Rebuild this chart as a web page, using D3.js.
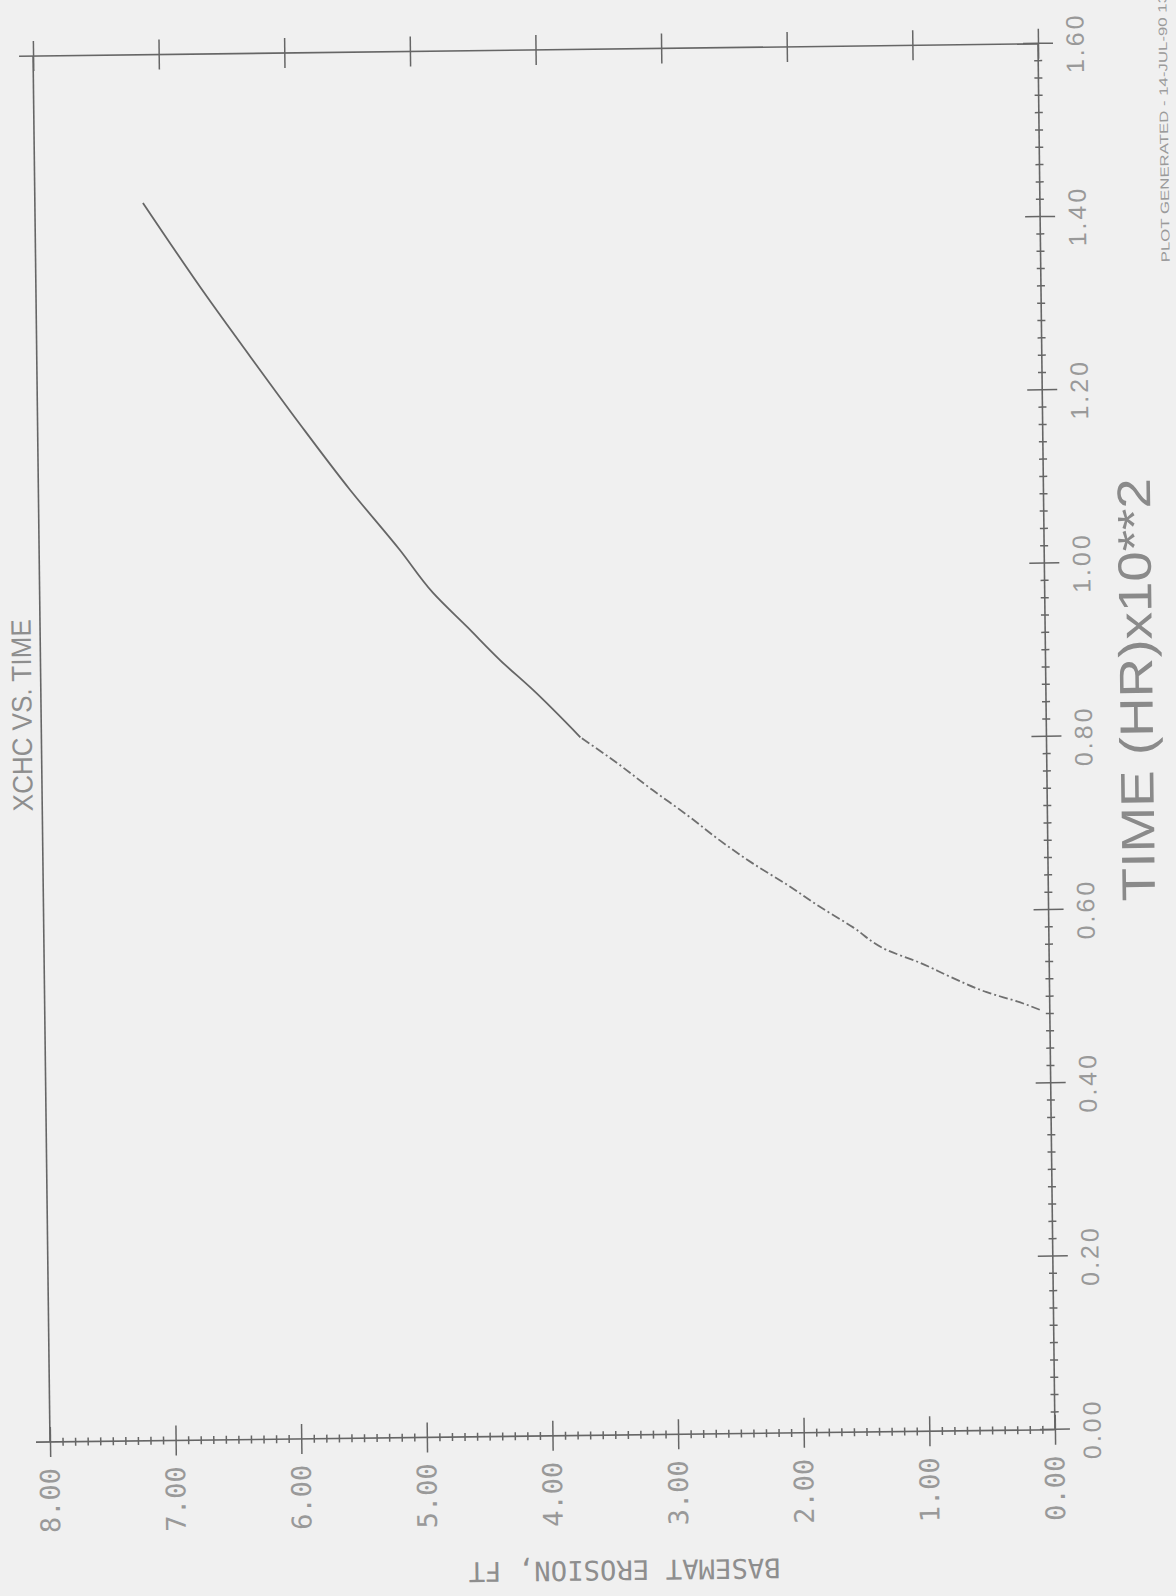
<!DOCTYPE html>
<html>
<head>
<meta charset="utf-8">
<script src="https://cdn.jsdelivr.net/npm/d3@7"></script>
<style>
  html, body { margin: 0; padding: 0; background: #f0f0f0; }
  svg { display: block; }
</style>
</head>
<body>
<script>
// values: time is in units of 100 hr, erosion in ft
var timeHr = [0.485, 0.494, 0.506, 0.523, 0.541, 0.556, 0.583, 0.607, 0.633, 0.658, 0.685, 0.715, 0.744,
              0.779, 0.806, 0.861, 0.896, 0.935, 0.975, 1.025, 1.095, 1.171, 1.250, 1.320, 1.429];
var erosionFt = [0.08, 0.24, 0.50, 0.77, 1.03, 1.29, 1.56, 1.82, 2.08, 2.35, 2.61, 2.87, 3.14,
                 3.45, 3.71, 4.08, 4.34, 4.60, 4.87, 5.13, 5.52, 5.91, 6.30, 6.64, 7.14];
// below this time the plotted line breaks up into dashes
var dashBelow = 0.806;

var timeTicks = [0, 0.2, 0.4, 0.6, 0.8, 1.0, 1.2, 1.4, 1.6];
var erosionTicks = [0, 1, 2, 3, 4, 5, 6, 7, 8];

var titleText = 'XCHC VS. TIME';
var xLabelText = 'TIME (HR)x10**2';
var yLabelText = 'BASEMAT EROSION, FT';
var stampText = 'PLOT GENERATED - 14-JUL-90 13:22:45';

var svgWidth = 1176;
var svgHeight = 1596;

// the plot is drawn upright, then turned on its side (and a bit skewed) like the scan
var plotW = 1386;
var plotH = 1005;
var originX = 50;
var originY = 1442;
var turn = -90.7;

var lineColor = '#666';
var textColor = '#999';

var svg = d3.select('body').append('svg')
    .attr('width', svgWidth)
    .attr('height', svgHeight);

svg.append('rect')
    .attr('width', svgWidth)
    .attr('height', svgHeight)
    .attr('fill', '#f0f0f0');

var g = svg.append('g')
    .attr('transform', 'translate(' + originX + ',' + originY + ') rotate(' + turn + ')');

var xScale = d3.scaleLinear().domain([0, 1.6]).range([0, plotW]);
var yScale = d3.scaleLinear().domain([0, 8]).range([plotH, 0]);

var fmt = d3.format('.2f');

function notMajor(step) {
    return function(v) { return Math.abs(v / step - Math.round(v / step)) > 1e-6; };
}
var timeMinor = d3.range(0, 1.6001, 0.02).filter(notMajor(0.2));
var erosionMinor = d3.range(0, 8.0001, 0.1).filter(notMajor(1));

function styleAxis(sel) {
    sel.select('.domain').remove();
    sel.selectAll('line').attr('stroke', lineColor).attr('stroke-width', 1.5);
}

// time axis, marks on both sides of the line
var xAxisG = g.append('g').attr('transform', 'translate(0,' + plotH + ')');
xAxisG.append('g').call(d3.axisBottom(xScale).tickValues(timeTicks).tickSize(15).tickPadding(13)
    .tickFormat(fmt)).call(styleAxis);
xAxisG.append('g').call(d3.axisTop(xScale).tickValues(timeTicks).tickSize(15).tickFormat('')).call(styleAxis);
xAxisG.append('g').call(d3.axisBottom(xScale).tickValues(timeMinor).tickSize(4).tickFormat('')).call(styleAxis);
xAxisG.append('g').call(d3.axisTop(xScale).tickValues(timeMinor).tickSize(4).tickFormat('')).call(styleAxis);

xAxisG.selectAll('text')
    .attr('fill', textColor)
    .attr('font-family', 'Liberation Sans, Arial, sans-serif')
    .attr('font-size', 25)
    .style('letter-spacing', '3px');

// erosion axis
var yAxisG = g.append('g');
yAxisG.append('g').call(d3.axisLeft(yScale).tickValues(erosionTicks).tickSize(15).tickPadding(11)
    .tickFormat(fmt)).call(styleAxis);
yAxisG.append('g').call(d3.axisRight(yScale).tickValues(erosionTicks).tickSize(15).tickFormat('')).call(styleAxis);
yAxisG.append('g').call(d3.axisLeft(yScale).tickValues(erosionMinor).tickSize(4).tickFormat('')).call(styleAxis);
yAxisG.append('g').call(d3.axisRight(yScale).tickValues(erosionMinor).tickSize(4).tickFormat('')).call(styleAxis);

yAxisG.selectAll('text')
    .attr('fill', textColor)
    .attr('font-family', 'DejaVu Sans Mono, monospace')
    .attr('font-size', 27);

// far edge only has the major marks
var farG = g.append('g').attr('transform', 'translate(' + plotW + ',0)');
farG.append('g').call(d3.axisLeft(yScale).tickValues(erosionTicks).tickSize(15).tickFormat('')).call(styleAxis);
farG.append('g').call(d3.axisRight(yScale).tickValues(erosionTicks).tickSize(15).tickFormat('')).call(styleAxis);

// frame
var frame = [
    [xScale(0), yScale(8) - 14, xScale(0), yScale(0)],
    [xScale(1.6), yScale(8) - 14, xScale(1.6), yScale(0)],
    [xScale(0), yScale(8), xScale(1.6), yScale(8)],
    [xScale(0), yScale(0), xScale(1.6), yScale(0)]
];
g.selectAll('line.frame')
    .data(frame)
    .enter()
    .append('line')
    .attr('class', 'frame')
    .attr('x1', function(d) { return d[0]; })
    .attr('y1', function(d) { return d[1]; })
    .attr('x2', function(d) { return d[2]; })
    .attr('y2', function(d) { return d[3]; })
    .attr('stroke', lineColor)
    .attr('stroke-width', 1.6);

// curve
var points = timeHr.map(function(t, i) { return [t, erosionFt[i]]; });
var line = d3.line()
    .x(function(d) { return xScale(d[0]); })
    .y(function(d) { return yScale(d[1]); })
    .curve(d3.curveMonotoneX);

g.append('path')
    .datum(points.filter(function(d) { return d[0] >= dashBelow; }))
    .attr('d', line)
    .attr('fill', 'none')
    .attr('stroke', '#666')
    .attr('stroke-width', 1.8);

g.append('path')
    .datum(points.filter(function(d) { return d[0] <= dashBelow; }))
    .attr('d', line)
    .attr('fill', 'none')
    .attr('stroke', '#707070')
    .attr('stroke-width', 1.8)
    .attr('stroke-dasharray', '9,3,2,3');

// title above the (upright) plot
g.append('text')
    .attr('x', 727)
    .attr('y', -19)
    .attr('text-anchor', 'middle')
    .attr('dominant-baseline', 'central')
    .attr('font-family', 'Liberation Sans, Arial, sans-serif')
    .attr('font-size', 28)
    .attr('fill', '#8e8e8e')
    .attr('textLength', 192)
    .attr('lengthAdjust', 'spacingAndGlyphs')
    .text(titleText);

// time axis title
g.append('text')
    .attr('x', 739)
    .attr('y', plotH + 90)
    .attr('text-anchor', 'middle')
    .attr('dominant-baseline', 'central')
    .attr('font-family', 'Liberation Sans, Arial, sans-serif')
    .attr('font-size', 47)
    .attr('fill', '#8a8a8a')
    .attr('textLength', 423)
    .attr('lengthAdjust', 'spacingAndGlyphs')
    .text(xLabelText);

// erosion axis title
g.append('text')
    .attr('transform', 'translate(-135,573) rotate(-90)')
    .attr('text-anchor', 'middle')
    .attr('dominant-baseline', 'central')
    .attr('font-family', 'DejaVu Sans Mono, monospace')
    .attr('font-size', 27)
    .attr('fill', '#8e8e8e')
    .attr('textLength', 312)
    .attr('lengthAdjust', 'spacingAndGlyphs')
    .text(yLabelText);

// plotter stamp along the edge
g.append('text')
    .attr('x', 1166)
    .attr('y', 1130)
    .attr('dominant-baseline', 'central')
    .attr('font-family', 'Liberation Sans, Arial, sans-serif')
    .attr('font-size', 12)
    .attr('fill', '#9a9a9a')
    .attr('textLength', 315)
    .attr('lengthAdjust', 'spacingAndGlyphs')
    .text(stampText);
</script>
</body>
</html>
